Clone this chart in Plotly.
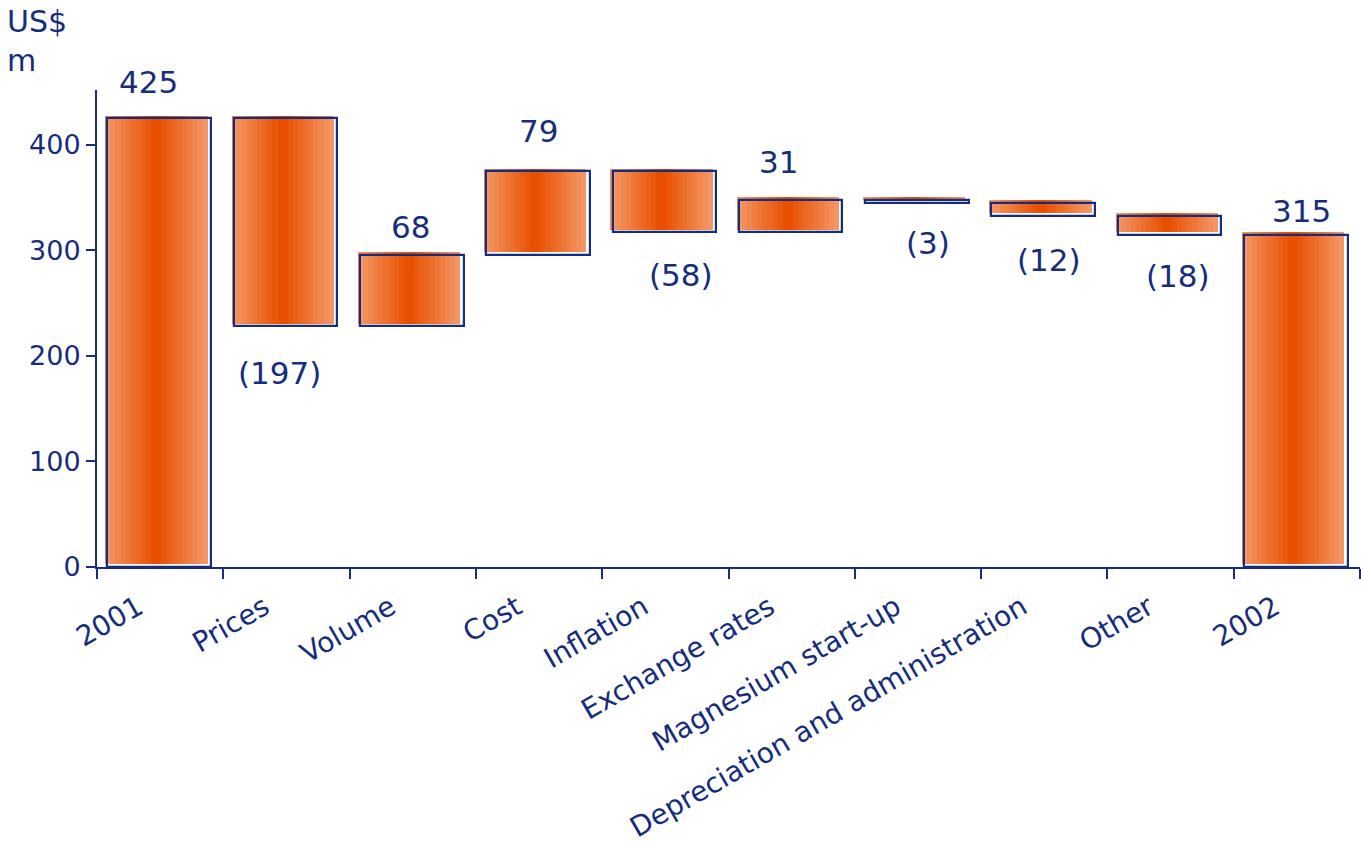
import plotly.graph_objects as go

# ---------------- data ----------------
categories = ["2001", "Prices", "Volume", "Cost", "Inflation", "Exchange rates",
              "Magnesium start-up", "Depreciation and administration", "Other", "2002"]
changes = [425, -197, 68, 79, -58, 31, -3, -12, -18, 315]
is_total = [True, False, False, False, False, False, False, False, False, True]
y_ticks = [0, 100, 200, 300, 400]
y_unit_label = "US$<br>m"

# ---------------- style ----------------
NAVY = "#162D7E"
FONT = "DejaVu Sans"
EDGE = (243, 150, 100)
CENTER = (232, 80, 0)
N_BANDS = 10
W_FILL = 0.81
FILL_DX = -0.03     # fill slightly shifted left of outline (category units)
FILL_DY = 2.6       # fill slightly shifted up (value units)
W_OUT = 0.82
OUT_DX = -0.008
# label offsets in pixels (dx, distance from bar edge)
label_dx = [-12, -7, -2, -1, 16, -13, 10, 5, 7, 5]
label_dist = [36, 47, 28, 40, 43, 38, 40, 44, 41, 24]

# ---------------- waterfall geometry from data ----------------
bases, heights, label_anchor, label_text, label_above = [], [], [], [], []
running = 0
for v, tot in zip(changes, is_total):
    if tot:
        bases.append(0)
        heights.append(v)
        running = v
        label_anchor.append(v)
        label_text.append(f"{v}")
        label_above.append(True)
    else:
        new = running + v
        bases.append(min(running, new))
        heights.append(abs(v))
        label_anchor.append(new)
        if v >= 0:
            label_text.append(f"{v}")
            label_above.append(True)
        else:
            label_text.append(f"({abs(v)})")
            label_above.append(False)
        running = new

fig = go.Figure()

# gradient fill made of stacked bands
for k in range(N_BANDS):
    frac = 1 - k / N_BANDS
    w = W_FILL * frac
    t = k / (N_BANDS - 1)
    col = tuple(round(EDGE[i] * (1 - t) + CENTER[i] * t) for i in range(3))
    fig.add_trace(go.Bar(
        x=categories, y=heights, base=[b + FILL_DY for b in bases],
        width=w, offset=FILL_DX - w / 2,
        marker=dict(color=f"rgb{col}", line=dict(width=0)),
        hoverinfo="skip", showlegend=False,
    ))

# outline
fig.add_trace(go.Bar(
    x=categories, y=heights, base=bases,
    width=W_OUT, offset=OUT_DX - W_OUT / 2,
    marker=dict(color="rgba(0,0,0,0)", line=dict(color=NAVY, width=2.2)),
    hoverinfo="skip", showlegend=False,
))

# value labels (x given as category index, since labels like "2001" look numeric)
for i in range(len(categories)):
    fig.add_annotation(
        x=i, y=label_anchor[i], text=label_text[i], showarrow=False,
        xanchor="center", yanchor="middle",
        xshift=label_dx[i],
        yshift=label_dist[i] if label_above[i] else -label_dist[i],
        font=dict(family=FONT, size=31, color=NAVY),
    )

# unit label
fig.add_annotation(
    xref="paper", yref="paper", x=-0.073, y=1.185, xanchor="left", yanchor="top",
    text=y_unit_label, showarrow=False, align="left",
    font=dict(family=FONT, size=30, color=NAVY),
)

fig.update_layout(
    width=1361, height=843,
    margin=dict(l=97, r=1, t=90, b=276),
    paper_bgcolor="white", plot_bgcolor="white",
    barmode="overlay", bargap=0,
    showlegend=False,
    font=dict(family=FONT, color=NAVY),
)
fig.update_xaxes(
    type="category", range=[-0.5, len(categories) - 0.5], automargin=False,
    showline=True, linecolor=NAVY, linewidth=2,
    ticks="outside", tickson="boundaries", ticklen=10, tickwidth=2, tickcolor=NAVY,
    tickangle=-30, tickfont=dict(family=FONT, size=28, color=NAVY),
    ticklabelshift=-22, ticklabelstandoff=11,
    showgrid=False, zeroline=False,
)
fig.update_yaxes(
    range=[0, 452], tickvals=y_ticks, automargin=False,
    showline=True, linecolor=NAVY, linewidth=2,
    ticks="outside", ticklen=9, tickwidth=2, tickcolor=NAVY,
    tickfont=dict(family=FONT, size=27, color=NAVY),
    showgrid=False, zeroline=False,
)

fig.write_html("out.html")
